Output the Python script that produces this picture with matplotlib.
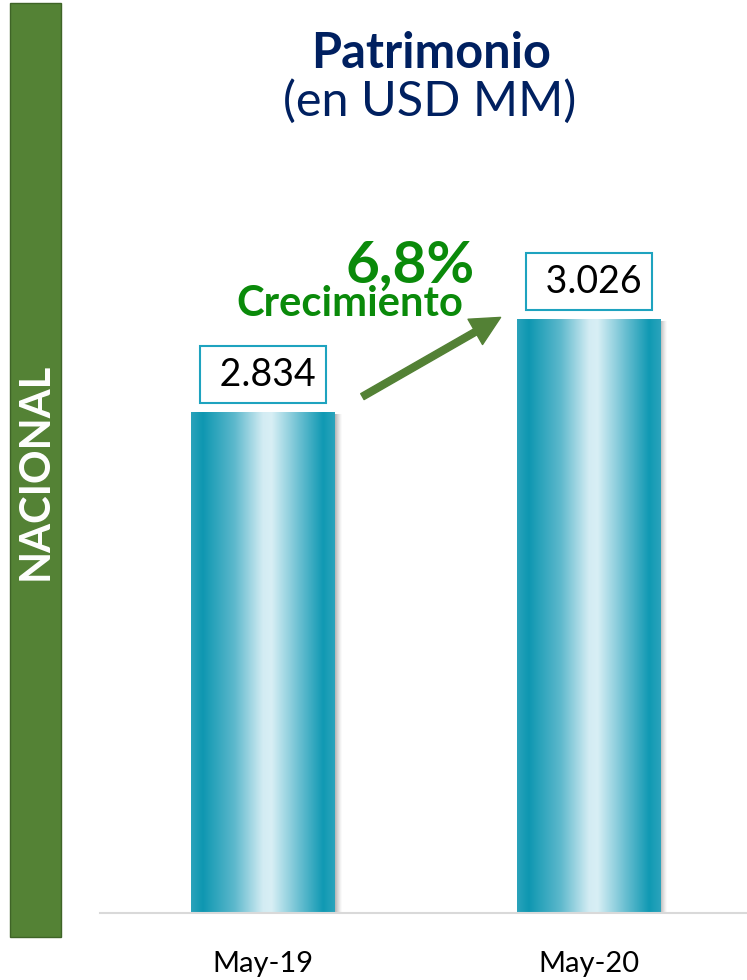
import numpy as np
import matplotlib
matplotlib.use("Agg")
import matplotlib.pyplot as plt
from matplotlib.colors import LinearSegmentedColormap
from matplotlib.patches import Rectangle, FancyArrowPatch

categories = ["May-19", "May-20"]
values = [2834, 3026]
value_labels = ["2.834", "3.026"]
growth_label = "6,8%"
growth_text = "Crecimiento"
side_label = "NACIONAL"
title_main = "Patrimonio"
title_sub = "(en USD MM)"

plt.rcParams['font.family'] = ['Lato', 'DejaVu Sans']

W, H = 747, 980
fig = plt.figure(figsize=(W / 100, H / 100), dpi=100)
fig.patch.set_facecolor("white")

# axes: x 100..747 px, baseline y=913, top y=100
ax = fig.add_axes([100 / W, (H - 913) / H, 647 / W, (913 - 100) / H])
ymin = 1800
ymax = ymin + 813 / 0.4845
ax.set_xlim(-0.5, 1.485)
ax.set_ylim(ymin, ymax)
for s in ["top", "right", "left"]:
    ax.spines[s].set_visible(False)
ax.spines["bottom"].set_color("#d9d9d9")
ax.spines["bottom"].set_linewidth(1.5)
ax.set_yticks([])
ax.set_xticks(range(len(categories)))
ax.set_xticklabels(categories, fontsize=21, color="#000000")
ax.tick_params(axis="x", length=0, pad=27)

cmap = LinearSegmentedColormap.from_list(
    "cyl", [(0.0, "#2aa3bb"), (0.08, "#0e97b1"), (0.3, "#5cb8cc"),
            (0.5, "#d3ecf3"), (0.56, "#d8eff5"), (0.75, "#6cc0d2"),
            (0.92, "#1099b3"), (1.0, "#2ba4bc")])
grad = np.linspace(0, 1, 256).reshape(1, -1)
shadow_cmap = LinearSegmentedColormap.from_list(
    "sh", [(0, (0.45, 0.45, 0.45, 0.55)), (1, (0.6, 0.6, 0.6, 0.0))])
bw = 0.439
for i, v in enumerate(values):
    # soft shadow on the right side
    ax.imshow(grad, extent=[i + bw / 2, i + bw / 2 + 0.02, ymin, v - 6],
              aspect="auto", cmap=shadow_cmap, zorder=1.5)
    ax.imshow(grad, extent=[i - bw / 2, i + bw / 2, ymin, v], aspect="auto",
              cmap=cmap, zorder=2, interpolation="bicubic")
    ax.annotate(" " + value_labels[i], xy=(i, v), xytext=(0, 27),
                textcoords="offset points", ha="center", va="center",
                fontsize=27, color="black", zorder=5,
                bbox=dict(boxstyle="square,pad=0.27", facecolor="white",
                          edgecolor="#1ea3bf", linewidth=1.5))
ax.set_xlim(-0.5, 1.485)
ax.set_ylim(ymin, ymax)

# left green band
fig.add_artist(Rectangle((10 / W, (H - 937) / H), 51 / W, 934 / H,
                         transform=fig.transFigure, facecolor="#548235",
                         edgecolor="#3f6427", linewidth=1))
fig.text(36 / W, 1 - 471 / H, side_label, rotation=90, ha="center", va="center",
         color="white", fontsize=30, fontweight="bold")

# titles
fig.text(431 / W, 1 - 54 / H, title_main, ha="center", va="center",
         color="#002060", fontsize=35, fontweight="bold")
fig.text(430 / W, 1 - 101 / H, title_sub, ha="center", va="center",
         color="#002060", fontsize=35)

# growth annotation
fig.text(410 / W, 1 - 283 / H, growth_label, ha="center", va="baseline",
         color="#0a8a0a", fontsize=42, fontweight="bold")
fig.text(350 / W, 1 - 316 / H, growth_text, ha="center", va="baseline",
         color="#0a8a0a", fontsize=30, fontweight="bold")
arrow = FancyArrowPatch((360 / W, 1 - 398 / H), (503 / W, 1 - 316 / H),
                        transform=fig.transFigure,
                        arrowstyle="simple,head_length=1.5,head_width=1.5,tail_width=0.35",
                        mutation_scale=14, color="#538135")
fig.add_artist(arrow)

fig.savefig("out.png", dpi=100)
